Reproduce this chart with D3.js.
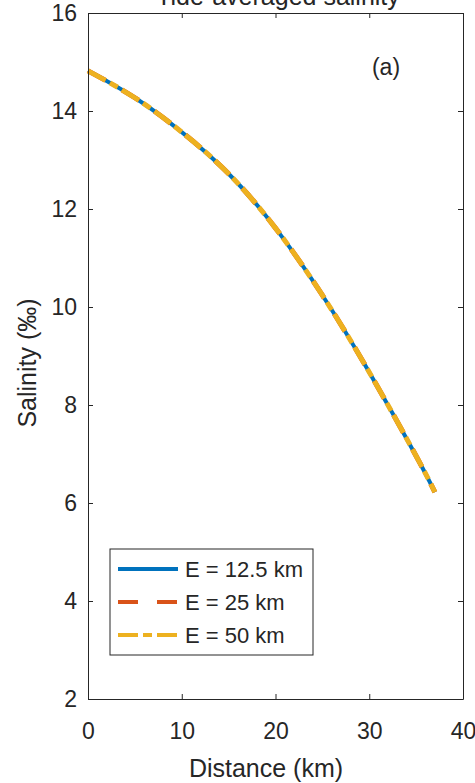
<!DOCTYPE html>
<html>
<head>
<meta charset="utf-8">
<script src="https://cdn.jsdelivr.net/npm/d3@7"></script>
<style>
body { margin: 0; background: #fff; }
text { font-family: "Liberation Sans", Arial, sans-serif; fill: #262626; }
</style>
</head>
<body>
<svg id="chart" width="475" height="783"></svg>
<script>
// values
var distance = [0, 5, 10, 15, 20, 25, 30, 35, 37];
var salt125 = [14.82, 14.27, 13.57, 12.72, 11.61, 10.24, 8.67, 6.96, 6.22];
var salt25 = [14.82, 14.27, 13.57, 12.72, 11.61, 10.24, 8.67, 6.96, 6.22];
var salt50 = [14.82, 14.27, 13.57, 12.72, 11.61, 10.24, 8.67, 6.96, 6.22];
var seriesNames = ["E = 12.5 km", "E = 25 km", "E = 50 km"];
var xTicks = [0, 10, 20, 30, 40];
var yTicks = [2, 4, 6, 8, 10, 12, 14, 16];

var svg = d3.select("#chart");

var margins = {left: 88, right: 12, top: 13, bottom: 84};
var width = 475 - margins.left - margins.right;
var height = 783 - margins.top - margins.bottom;

var xScale = d3.scaleLinear().domain([0, 40]).range([0, width]);
var yScale = d3.scaleLinear().domain([2, 16]).range([height, 0]);

var plot = svg.append("g")
  .attr("transform", "translate(" + margins.left + "," + margins.top + ")");

var styles = [
  {color: "#0072BD", dash: null},
  {color: "#D95319", dash: "20,19"},
  {color: "#EDB120", dash: "20,5,9,5"}
];
var allSeries = [salt125, salt25, salt50];

var line = d3.line()
  .x(function(d) { return xScale(d[0]); })
  .y(function(d) { return yScale(d[1]); })
  .curve(d3.curveNatural);

allSeries.forEach(function(s, i) {
  plot.append("path")
    .datum(distance.map(function(x, j) { return [x, s[j]]; }))
    .attr("fill", "none")
    .attr("stroke", styles[i].color)
    .attr("stroke-width", i == 0 ? 4 : 5)
    .attr("stroke-dasharray", styles[i].dash)
    .attr("d", line);
});

// axes, ticks inside on all four sides
function styleAxis(g) {
  g.selectAll("path").attr("stroke", "#262626").attr("stroke-width", 1);
  g.selectAll("line").attr("stroke", "#262626");
  g.selectAll("text").style("font-size", "23px").attr("fill", "#262626")
    .style("font-family", "'Liberation Sans', Arial, sans-serif");
}

plot.append("g").attr("transform", "translate(0," + height + ")")
  .call(d3.axisBottom(xScale).tickValues(xTicks).tickSize(-5).tickPadding(24).tickSizeOuter(0))
  .call(styleAxis);
plot.append("g")
  .call(d3.axisTop(xScale).tickValues(xTicks).tickSize(-5).tickFormat("").tickSizeOuter(0))
  .call(styleAxis);
plot.append("g")
  .call(d3.axisLeft(yScale).tickValues(yTicks).tickSize(-5).tickPadding(11).tickSizeOuter(0))
  .call(styleAxis);
plot.append("g").attr("transform", "translate(" + width + ",0)")
  .call(d3.axisRight(yScale).tickValues(yTicks).tickSize(-5).tickFormat("").tickSizeOuter(0))
  .call(styleAxis);

// labels
svg.append("text")
  .attr("x", 266).attr("y", 777)
  .attr("text-anchor", "middle").style("font-size", "25px")
  .text("Distance (km)");

svg.append("text")
  .attr("transform", "translate(36,363) rotate(-90)")
  .attr("text-anchor", "middle").style("font-size", "25px")
  .text("Salinity (‰)");

svg.append("text")
  .attr("x", 278).attr("y", 5)
  .attr("text-anchor", "middle").style("font-size", "25px")
  .text("Tide-averaged salinity");

svg.append("text")
  .attr("x", 386).attr("y", 75)
  .attr("text-anchor", "middle").style("font-size", "23px")
  .text("(a)");

// legend
var legend = svg.append("g").attr("transform", "translate(110,549)");
legend.append("rect")
  .attr("width", 203).attr("height", 106)
  .attr("fill", "#fff").attr("stroke", "#262626").attr("stroke-width", 1);

var rowY = [20, 53, 86];
seriesNames.forEach(function(name, i) {
  legend.append("line")
    .attr("x1", 8).attr("x2", 68).attr("y1", rowY[i]).attr("y2", rowY[i])
    .attr("stroke", styles[i].color).attr("stroke-width", 4)
    .attr("stroke-dasharray", styles[i].dash);
  legend.append("text")
    .attr("x", 75).attr("y", rowY[i] + 8)
    .style("font-size", "22px")
    .text(name);
});
</script>
</body>
</html>
